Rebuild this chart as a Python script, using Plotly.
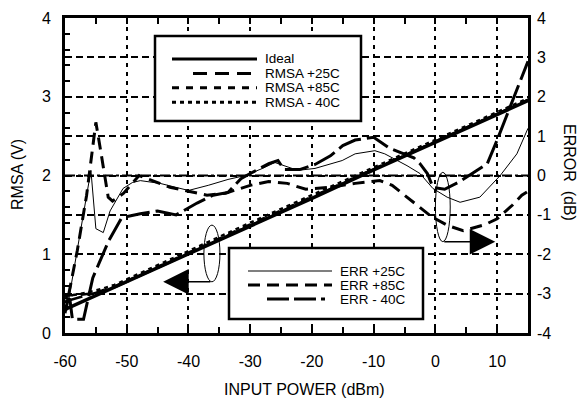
import plotly.graph_objects as go

# ---------------- data ----------------
x_rmsa = [-60, -58, -56, -54, -52, -50, -40, -30, -20, -10, 0, 10, 15]
ideal = [0.30, 0.37, 0.44, 0.51, 0.58, 0.65, 1.01, 1.36, 1.71, 2.07, 2.42, 2.77, 2.95]
rmsa_25 = [0.40, 0.45, 0.49, 0.53, 0.58, 0.65, 1.01, 1.37, 1.72, 2.08, 2.43, 2.78, 2.96]
rmsa_85 = [0.48, 0.48, 0.50, 0.54, 0.59, 0.66, 1.02, 1.38, 1.73, 2.09, 2.44, 2.79, 2.96]
rmsa_m40 = [0.47, 0.49, 0.52, 0.56, 0.61, 0.68, 1.04, 1.40, 1.75, 2.11, 2.46, 2.81, 2.98]

x_err25 = [-59.7, -57.8, -55.8, -55.0, -53.8, -52.7, -50.6, -49.1, -47.8, -44.6, -41.4, -40.0,
           -36.8, -33.6, -30.8, -28.0, -26.0, -24.4, -22.3, -19.5, -15.1, -13.0, -9.8, -8.2,
           -4.6, -2.5, -0.4, 1.9, 4.0, 7.2, 10.5, 13.2, 15.0]
err25 = [-3.43, -1.65, 0.13, -1.35, -1.45, -0.9, -0.33, -0.18, -0.13, -0.2, -0.33, -0.38,
         -0.25, -0.1, 0.0, 0.18, 0.33, 0.25, 0.13, 0.18, 0.38, 0.55, 0.63, 0.55,
         0.25, 0.05, -0.33, -0.55, -0.68, -0.55, 0.0, 0.55, 1.2]

x_err85 = [-60, -58, -56.5, -55.5, -55.0, -54.3, -53.5, -53.0, -52.3, -50.5, -48, -46, -43, -40,
           -37, -34, -30, -27, -24, -21, -17, -13, -9, -7, -5, -2.5, -1, 0, 2, 4.5, 8, 10,
           12.5, 14, 15]
err85 = [-3.5, -1.9, -0.5, 0.7, 1.35, 0.7, -0.1, -0.55, -0.65, -0.45, 0.0, -0.12, -0.3, -0.4,
         -0.5, -0.45, -0.25, -0.15, -0.2, -0.35, -0.3, -0.2, -0.13, -0.25, -0.5, -0.8, -1.0,
         -1.1, -1.27, -1.4, -1.25, -1.1, -0.75, -0.5, -0.4]

x_errm40 = [-60, -59.2, -58.8, -57.0, -55.5, -52.9, -50.8, -47.8, -45, -42, -38.6, -36, -33.6,
            -31.5, -30, -27, -25.5, -24.5, -22, -19.5, -17, -15, -13, -10, -7.5, -5, -3.5,
            -2.5, -1.3, -0.4, 1.5, 4, 6, 8.4, 10, 12, 13.5, 15]
errm40 = [-3.1, -3.15, -3.65, -3.65, -2.6, -1.65, -1.07, -0.97, -0.9, -1.0, -0.7, -0.5, -0.43,
          -0.08, 0.05, 0.3, 0.38, 0.15, 0.15, 0.28, 0.5, 0.76, 0.9, 0.97, 0.7, 0.55, 0.45,
          0.3, 0.05, -0.3, -0.35, -0.15, 0.05, 0.3, 0.9, 1.7, 2.3, 2.9]

x_ticks = [-60, -50, -40, -30, -20, -10, 0, 10]
x_ticktext = ["-60", "-50", "-40", "-30", "-20", "-10", "0", "10"]
y_ticks = [0, 1, 2, 3, 4]
y_ticktext = ["0", "1", "2", "3", "4"]
y2_ticks = [-4, -3, -2, -1, 0, 1, 2, 3, 4]
y2_ticktext = ["-4", "-3", "-2", "-1", "0", "1", "2", "3", "4"]

legend1_labels = ["Ideal", "RMSA +25C", "RMSA +85C", "RMSA - 40C"]
legend2_labels = ["ERR +25C", "ERR +85C", "ERR - 40C"]

# ---------------- styles ----------------
FONT = "Liberation Sans, Arial, sans-serif"
DASH_LONG = "18px,7px"
DASH_SHORT = "8px,8px"
DASH_DOT = "4px,4px"
DASH_ERR85 = "12px,7px"
DASH_ERRM40 = "24px,6px"

fig = go.Figure()
fig.add_trace(go.Scatter(x=x_rmsa, y=rmsa_m40, mode="lines", yaxis="y",
                         line=dict(color="black", width=2.5, dash=DASH_DOT)))
fig.add_trace(go.Scatter(x=x_rmsa, y=rmsa_85, mode="lines", yaxis="y",
                         line=dict(color="black", width=2.5, dash=DASH_SHORT)))
fig.add_trace(go.Scatter(x=x_rmsa, y=rmsa_25, mode="lines", yaxis="y",
                         line=dict(color="black", width=2.5, dash=DASH_LONG)))
fig.add_trace(go.Scatter(x=x_rmsa, y=ideal, mode="lines", yaxis="y",
                         line=dict(color="black", width=3.5)))
fig.add_trace(go.Scatter(x=x_err25, y=err25, mode="lines", yaxis="y2",
                         line=dict(color="black", width=1)))
fig.add_trace(go.Scatter(x=x_err85, y=err85, mode="lines", yaxis="y2",
                         line=dict(color="black", width=3, dash=DASH_ERR85)))
fig.add_trace(go.Scatter(x=x_errm40, y=errm40, mode="lines", yaxis="y2",
                         line=dict(color="black", width=3, dash=DASH_ERRM40)))

# plot-area geometry in pixels (for legend placement)
L, R, T, B = 65, 528, 18, 333
W, H = 579, 400


def px(xp):
    return (xp - L) / (R - L)


def py(yp):
    return (B - yp) / (B - T)


shapes = []
annotations = []

# zero error reference line (dash-dot)
shapes.append(dict(type="line", xref="paper", yref="y2", x0=0, x1=1, y0=0, y1=0,
                   line=dict(color="black", width=2, dash="10px,3px,3px,3px"), layer="below"))

# legend 1
shapes.append(dict(type="rect", xref="paper", yref="paper", x0=px(155), x1=px(361),
                   y0=py(121), y1=py(36), fillcolor="white",
                   line=dict(color="black", width=2.5), layer="above"))
leg1_styles = [(172, 257, 3, "solid"), (193, 252, 3, "14px,8px"),
               (172, 257, 3, "7px,7px"), (172, 257, 3, "4px,4px")]
for i, (lab, st) in enumerate(zip(legend1_labels, leg1_styles)):
    yy = 59 + i * 14.4
    shapes.append(dict(type="line", xref="paper", yref="paper", x0=px(st[0]), x1=px(st[1]),
                       y0=py(yy), y1=py(yy), line=dict(color="black", width=st[2], dash=st[3]),
                       layer="above"))
    annotations.append(dict(xref="paper", yref="paper", x=px(264), y=py(yy), text=lab,
                            showarrow=False, xanchor="left", yanchor="middle",
                            borderpad=0, font=dict(family=FONT, size=13.5, color="black")))

# legend 2
shapes.append(dict(type="rect", xref="paper", yref="paper", x0=px(229), x1=px(423),
                   y0=py(319), y1=py(248), fillcolor="white",
                   line=dict(color="black", width=2.5), layer="above"))
leg2_styles = [(248, 332, 1.2, "solid"), (248, 332, 3, "12px,7px"), (267, 325, 3, "22px,5px")]
for i, (lab, st) in enumerate(zip(legend2_labels, leg2_styles)):
    yy = 271 + i * 14
    shapes.append(dict(type="line", xref="paper", yref="paper", x0=px(st[0]), x1=px(st[1]),
                       y0=py(yy), y1=py(yy), line=dict(color="black", width=st[2], dash=st[3]),
                       layer="above"))
    annotations.append(dict(xref="paper", yref="paper", x=px(339), y=py(yy), text=lab,
                            showarrow=False, xanchor="left", yanchor="middle",
                            borderpad=0, font=dict(family=FONT, size=13.5, color="black")))

# ellipses marking the curve groups
shapes.append(dict(type="circle", xref="x", yref="y", x0=-37.5, x1=-34.9, y0=0.65, y1=1.37,
                   line=dict(color="black", width=1), layer="above"))
shapes.append(dict(type="circle", xref="x", yref="y", x0=0.0, x1=2.4, y0=1.16, y1=2.04,
                   line=dict(color="black", width=1), layer="above"))

# arrows
annotations.append(dict(x=-44.1, y=0.65, ax=-36.2, ay=0.65, xref="x", yref="y",
                        axref="x", ayref="y", text="", showarrow=True, arrowhead=2,
                        arrowsize=3.4, arrowwidth=1.5, arrowcolor="black"))
annotations.append(dict(x=9.7, y=1.16, ax=1.2, ay=1.16, xref="x", yref="y",
                        axref="x", ayref="y", text="", showarrow=True, arrowhead=2,
                        arrowsize=3.4, arrowwidth=1.5, arrowcolor="black"))

# axis titles
annotations.append(dict(xref="paper", yref="paper", x=px(304), y=py(389),
                        xanchor="center", yanchor="middle",
                        text="INPUT POWER (dBm)", showarrow=False,
                        font=dict(family=FONT, size=16, color="black")))
annotations.append(dict(xref="paper", yref="paper", x=px(17), y=py(175),
                        xanchor="center", yanchor="middle",
                        text="RMSA (V)", showarrow=False, textangle=-90,
                        font=dict(family=FONT, size=16, color="black")))
annotations.append(dict(xref="paper", yref="paper", x=px(570), y=py(172),
                        xanchor="center", yanchor="middle",
                        text="ERROR  (dB)", showarrow=False, textangle=90,
                        font=dict(family=FONT, size=16, color="black")))

fig.update_layout(
    width=W, height=H,
    margin=dict(l=L, r=W - R, t=T, b=H - B, autoexpand=False),
    paper_bgcolor="white", plot_bgcolor="white",
    showlegend=False,
    font=dict(family=FONT, size=16, color="black"),
    shapes=shapes, annotations=annotations,
    xaxis=dict(range=[-60, 15], tickvals=x_ticks, ticktext=x_ticktext, ticks="inside",
               ticklen=6, tickwidth=2,
               tickcolor="black", showgrid=True, gridcolor="black", gridwidth=2,
               griddash="4px,5px", showline=True, linewidth=3, linecolor="black",
               mirror="allticks", zeroline=False, ticklabelstandoff=12,
               minor=dict(dtick=5, ticks="inside", ticklen=5, tickwidth=2, tickcolor="black",
                          showgrid=False),
               tickfont=dict(family=FONT, size=16)),
    yaxis=dict(range=[0, 4], tickvals=y_ticks, ticktext=y_ticktext, ticks="inside",
               ticklen=6, tickwidth=2,
               tickcolor="black", showgrid=False, showline=True, linewidth=3,
               linecolor="black", mirror=True, zeroline=False, ticklabelstandoff=8,
               minor=dict(dtick=0.2, ticks="inside", ticklen=5, tickwidth=2,
                          tickcolor="black", showgrid=False),
               tickfont=dict(family=FONT, size=16)),
    yaxis2=dict(range=[-4, 4], tickvals=y2_ticks, ticktext=y2_ticktext, overlaying="y",
                side="right",
                ticks="", showgrid=True, gridcolor="black", gridwidth=2,
                griddash="7px,4px", showline=False, zeroline=False, ticklabelstandoff=8,
                tickfont=dict(family=FONT, size=16)),
)

fig.write_html("out.html")
